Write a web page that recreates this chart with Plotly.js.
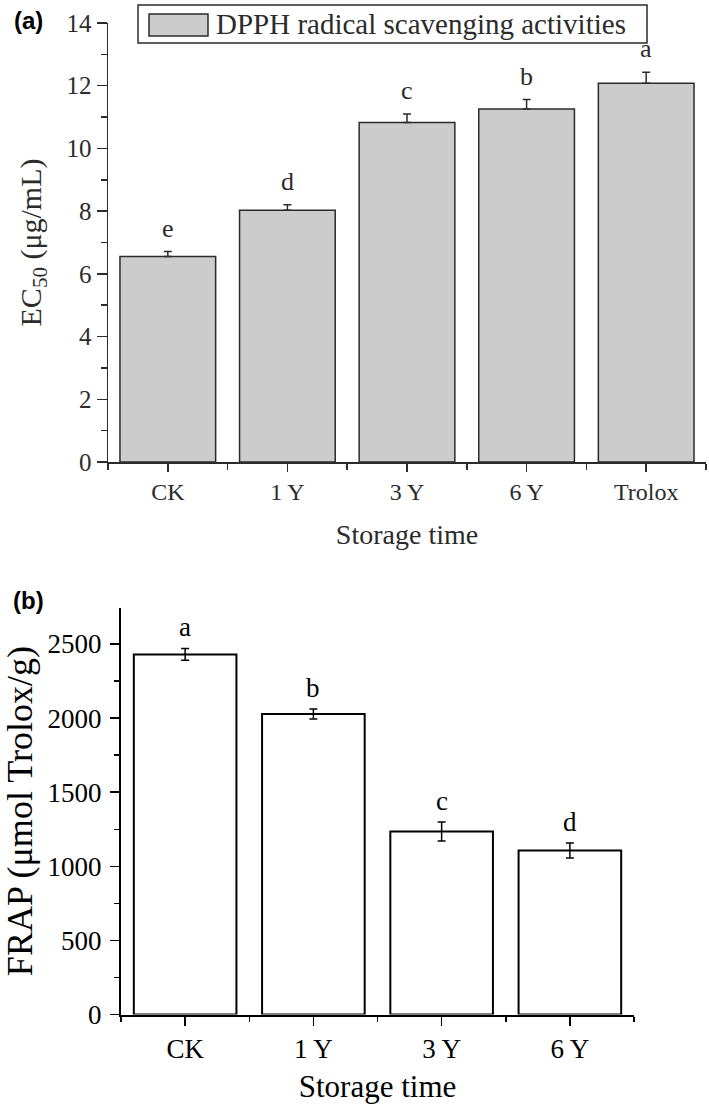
<!DOCTYPE html>
<html>
<head>
<meta charset="utf-8">
<script src="https://cdn.plot.ly/plotly-3.0.1.min.js"></script>
<style>html,body{margin:0;padding:0;background:#fff;}#chart{width:709px;height:1108px;}</style>
</head>
<body>
<div id="chart"></div>
<script>
// ---- Panel (a): DPPH radical scavenging, EC50 ----
const categoriesA = ['CK', '1 Y', '3 Y', '6 Y', 'Trolox'];
const ec50 = [6.55, 8.03, 10.83, 11.26, 12.08];
const ec50Err = [0.16, 0.17, 0.27, 0.30, 0.35];
const lettersA = ['e', 'd', 'c', 'b', 'a'];
const seriesNameA = 'DPPH radical scavenging activities';

// ---- Panel (b): FRAP ----
const categoriesB = ['CK', '1 Y', '3 Y', '6 Y'];
const frap = [2430, 2028, 1235, 1107];
const frapErr = [40, 34, 64, 51];
const lettersB = ['a', 'b', 'c', 'd'];

const W = 709, H = 1108;
const px = v => v / W;
const py = v => 1 - v / H;
const serif = 'Liberation Serif, Times New Roman, serif';
const cA = '#2b2b2b';
const cB = '#000000';

const idxA = categoriesA.map((c, i) => i);
const idxB = categoriesB.map((c, i) => i);

const traces = [
  {
    type: 'bar', name: seriesNameA, x: idxA, y: ec50, width: 0.8,
    xaxis: 'x', yaxis: 'y',
    marker: {color: '#cccccc', line: {color: cA, width: 1.5}},
    error_y: {type: 'data', symmetric: false, array: ec50Err, arrayminus: ec50Err.map(() => 0),
              color: cA, thickness: 1.5, width: 4},
    hoverinfo: 'y'
  },
  {
    type: 'bar', name: 'FRAP', x: idxB, y: frap, width: 0.8,
    xaxis: 'x2', yaxis: 'y2',
    marker: {color: '#ffffff', line: {color: cB, width: 2}},
    error_y: {type: 'data', array: frapErr, color: cB, thickness: 1.5, width: 4},
    hoverinfo: 'y'
  }
];

const annotations = [];
lettersA.forEach((t, i) => annotations.push({
  x: idxA[i], y: ec50[i] + ec50Err[i], xref: 'x', yref: 'y', text: t, showarrow: false,
  yanchor: 'bottom', yshift: 7, font: {family: serif, size: 26, color: cA}
}));
lettersB.forEach((t, i) => annotations.push({
  x: idxB[i], y: frap[i] + frapErr[i], xref: 'x2', yref: 'y2', text: t, showarrow: false,
  yanchor: 'bottom', yshift: 4, font: {family: serif, size: 27, color: cB}
}));
// panel labels
annotations.push({x: px(12), y: py(20), xref: 'paper', yref: 'paper', xanchor: 'left', yanchor: 'middle',
  text: '<b>(a)</b>', showarrow: false, font: {family: 'Liberation Sans, Arial, sans-serif', size: 24, color: '#000'}});
annotations.push({x: px(11), y: py(600), xref: 'paper', yref: 'paper', xanchor: 'left', yanchor: 'middle',
  text: '<b>(b)</b>', showarrow: false, font: {family: 'Liberation Sans, Arial, sans-serif', size: 24, color: '#000'}});
// legend text for panel (a)
annotations.push({x: px(214), y: py(24), xref: 'paper', yref: 'paper', xanchor: 'left', yanchor: 'middle',
  text: seriesNameA, showarrow: false, font: {family: serif, size: 29, color: cA}});

const shapes = [
  {type: 'rect', xref: 'paper', yref: 'paper', x0: px(138), x1: px(647), y0: py(43), y1: py(5),
   line: {color: cA, width: 1.5}, fillcolor: 'rgba(0,0,0,0)'},
  {type: 'rect', xref: 'paper', yref: 'paper', x0: px(149), x1: px(208), y0: py(36), y1: py(14),
   line: {color: cA, width: 1.5}, fillcolor: '#cccccc'}
];

const axisCommon = {showgrid: false, zeroline: false, showline: true, ticks: 'outside', fixedrange: true};

const layout = {
  width: W, height: H,
  margin: {l: 0, r: 0, t: 0, b: 0},
  paper_bgcolor: '#fff', plot_bgcolor: 'rgba(0,0,0,0)',
  showlegend: false,
  xaxis: Object.assign({}, axisCommon, {
    domain: [px(108), px(706)], anchor: 'y', range: [-0.5, 4.5],
    tickmode: 'array', tickvals: idxA, ticktext: categoriesA,
    linecolor: cA, linewidth: 1.5, tickcolor: cA, tickwidth: 1.5, ticklen: 8,
    minor: {tickmode: 'linear', tick0: 0.5, dtick: 1, ticks: 'outside', ticklen: 6, tickwidth: 1.5, tickcolor: cA, showgrid: false},
    tickfont: {family: serif, size: 24, color: cA},
    title: {text: 'Storage time', font: {family: serif, size: 28, color: cA}, standoff: 20}
  }),
  yaxis: Object.assign({}, axisCommon, {
    domain: [py(462), py(23)], anchor: 'x', range: [0, 14], dtick: 2, tick0: 0,
    linecolor: cA, linewidth: 1.5, tickcolor: cA, tickwidth: 1.5, ticklen: 10,
    minor: {dtick: 1, ticks: 'outside', ticklen: 6, tickwidth: 1.5, tickcolor: cA, showgrid: false},
    tickfont: {family: serif, size: 25, color: cA},
    title: {text: 'EC<sub>50</sub> (μg/mL)', font: {family: serif, size: 30, color: cA}, standoff: 16}
  }),
  xaxis2: Object.assign({}, axisCommon, {
    domain: [px(121), px(634)], anchor: 'y2', range: [-0.5, 3.5],
    tickmode: 'array', tickvals: idxB, ticktext: categoriesB,
    linecolor: cB, linewidth: 2, tickcolor: cB, tickwidth: 1.5, ticklen: 9,
    minor: {tickmode: 'linear', tick0: 0.5, dtick: 1, ticks: 'outside', ticklen: 5, tickwidth: 1.5, tickcolor: cB, showgrid: false},
    tickfont: {family: serif, size: 27, color: cB},
    title: {text: 'Storage time', font: {family: serif, size: 31, color: cB}, standoff: 12}
  }),
  yaxis2: Object.assign({}, axisCommon, {
    domain: [py(1014.5), py(607.7)], anchor: 'x2', range: [0, 2745], dtick: 500, tick0: 0,
    linecolor: cB, linewidth: 2, tickcolor: cB, tickwidth: 1.5, ticklen: 9,
    minor: {dtick: 250, ticks: 'outside', ticklen: 5, tickwidth: 1.5, tickcolor: cB, showgrid: false},
    tickfont: {family: serif, size: 27, color: cB}, ticklabelstandoff: 3,
    title: {text: 'FRAP (μmol Trolox/g)', font: {family: serif, size: 36, color: cB}, standoff: 10}
  }),
  annotations: annotations,
  shapes: shapes
};

Plotly.newPlot('chart', traces, layout, {displayModeBar: false, staticPlot: true});
</script>
</body>
</html>
